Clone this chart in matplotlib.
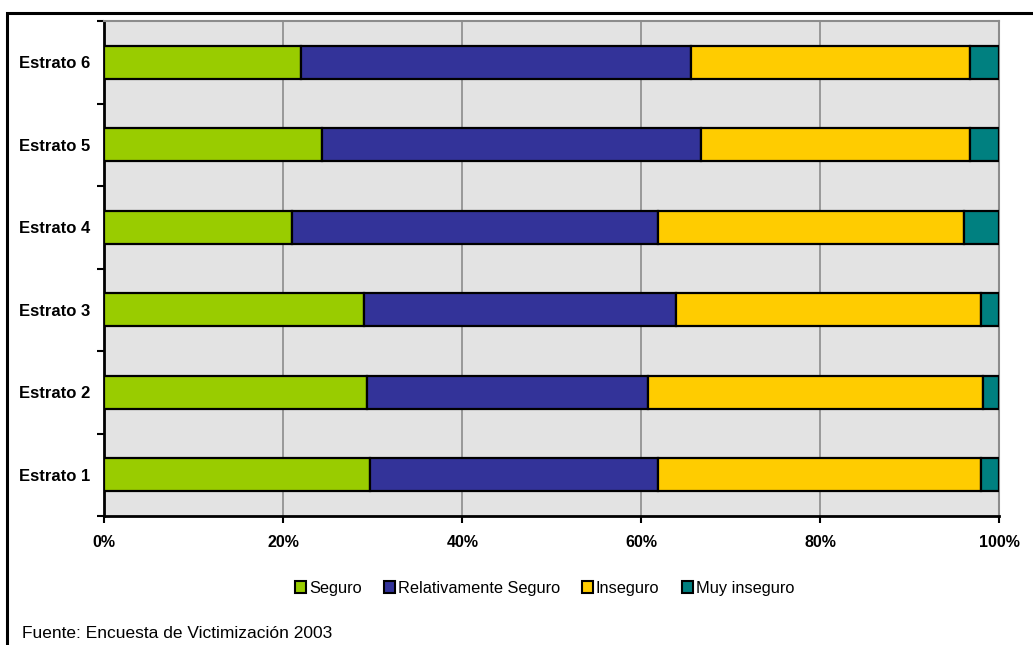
import matplotlib.pyplot as plt
from matplotlib.patches import Rectangle, Patch
import numpy as np

plt.rcParams['font.family'] = ['Liberation Sans', 'DejaVu Sans']

# Data (percent)
estratos = ['Estrato 1', 'Estrato 2', 'Estrato 3', 'Estrato 4', 'Estrato 5', 'Estrato 6']
seguro = [29.7, 29.4, 29.0, 21.0, 24.3, 22.0]
relativamente = [32.2, 31.4, 34.9, 40.9, 42.4, 43.5]
inseguro = [36.0, 37.4, 34.0, 34.2, 30.0, 31.2]
muy_inseguro = [2.1, 1.8, 2.1, 3.9, 3.3, 3.3]

series_names = ['Seguro', 'Relativamente Seguro', 'Inseguro', 'Muy inseguro']
colors = ['#99CC00', '#333399', '#FFCC00', '#008080']
x_ticks = [0, 20, 40, 60, 80, 100]

fig = plt.figure(figsize=(10.33, 6.45), dpi=100)
ax = fig.add_axes([104.3 / 1033, 1 - 516 / 645, (999.3 - 104.3) / 1033, (516 - 21) / 645])
ax.set_facecolor('#E3E3E3')

y = np.arange(len(estratos))
left = np.zeros(len(estratos))
for vals, c in zip([seguro, relativamente, inseguro, muy_inseguro], colors):
    ax.barh(y, vals, left=left, height=0.4, color=c, edgecolor='black', linewidth=1.6, zorder=3)
    left += np.array(vals)

ax.set_xlim(0, 100)
ax.set_ylim(-0.5, len(estratos) - 0.5)
ax.set_xticks(x_ticks)
ax.set_xticklabels([f'{v}%' for v in x_ticks], fontsize=11.5, fontweight='bold')
ax.xaxis.grid(True, color='#8C8C8C', linewidth=1.2, zorder=0)
ax.set_axisbelow(True)

# category labels without ticks, ticks at boundaries
ax.set_yticks(y)
ax.set_yticklabels(estratos, fontsize=12, fontweight='bold')
ax.tick_params(axis='y', length=0, pad=10)
ax.set_yticks(np.arange(-0.5, len(estratos)), minor=True)
ax.tick_params(axis='y', which='minor', length=5, width=1.5, direction='out')
ax.tick_params(axis='x', length=5, width=1.5, direction='out', pad=9)

for s in ['left', 'bottom']:
    ax.spines[s].set_linewidth(2)
    ax.spines[s].set_color('black')
for s in ['right', 'top']:
    ax.spines[s].set_linewidth(1.5)
    ax.spines[s].set_color('#8C8C8C')

handles = [Patch(facecolor=c, edgecolor='black', linewidth=1.5) for c in colors]
fig.legend(handles, series_names, loc='center', bbox_to_anchor=(544.5 / 1033, 0.088), ncol=4,
           frameon=False, fontsize=11.8, handlelength=0.7, handleheight=0.7,
           handletextpad=0.15, columnspacing=1.35)

fig.text(22 / 1033, 1 - 633 / 645, 'Fuente: Encuesta de Victimización 2003', fontsize=12.5,
         ha='left', va='center')

# outer frame
fig.patches.append(Rectangle((7 / 1033, -0.05), 1.1, 1 - 13 / 645 + 0.05, transform=fig.transFigure,
                             fill=False, edgecolor='black', linewidth=2.2))

fig.savefig('out.png', dpi=100)
